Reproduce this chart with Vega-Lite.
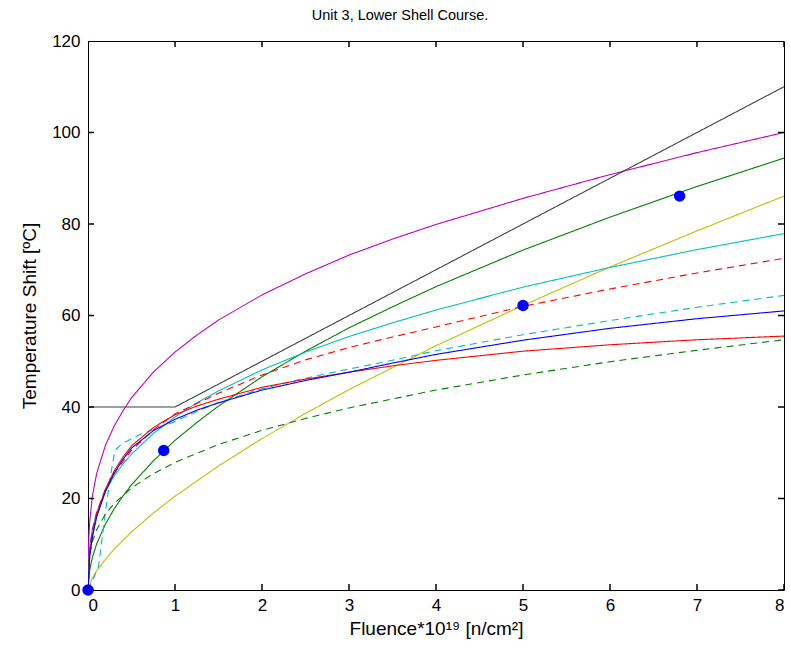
{
  "$schema": "https://vega.github.io/schema/vega-lite/v6.json",
  "autosize": {"type": "none"},
  "width": 696,
  "height": 549,
  "padding": {"left": 88, "top": 41, "right": 7, "bottom": 66},
  "background": "white",
  "config": {
    "view": {"stroke": "#000", "strokeWidth": 1},
    "font": "Liberation Sans",
    "axis": {"grid": false, "domain": false, "ticks": false, "labelColor": "#000", "labelFontSize": 17, "labelFont": "Liberation Sans", "titleFont": "Liberation Sans", "titleFontSize": 19, "titleFontWeight": "normal", "titleColor": "#000"}
  },
  "title": {"text": "Unit 3, Lower Shell Course.", "fontSize": 14.5, "fontWeight": "normal", "font": "Liberation Sans", "color": "#000", "offset": 9, "dx": -36},
  "datasets": {
    "curves": [
      {"s": "mag", "x": 0, "y": 0}, {"s": "mag", "x": 0.005, "y": 8}, {"s": "mag", "x": 0.01, "y": 12}, {"s": "mag", "x": 0.02, "y": 15}, {"s": "mag", "x": 0.05, "y": 20.5}, {"s": "mag", "x": 0.1, "y": 25.5}, {"s": "mag", "x": 0.2, "y": 31.6}, {"s": "mag", "x": 0.3, "y": 35.8}, {"s": "mag", "x": 0.4, "y": 39.1}, {"s": "mag", "x": 0.5, "y": 42.0}, {"s": "mag", "x": 0.75, "y": 47.6}, {"s": "mag", "x": 1, "y": 52}, {"s": "mag", "x": 1.25, "y": 55.7}, {"s": "mag", "x": 1.5, "y": 59.0}, {"s": "mag", "x": 2, "y": 64.5}, {"s": "mag", "x": 2.5, "y": 69.1}, {"s": "mag", "x": 3, "y": 73.2}, {"s": "mag", "x": 3.5, "y": 76.7}, {"s": "mag", "x": 4, "y": 79.9}, {"s": "mag", "x": 5, "y": 85.6}, {"s": "mag", "x": 6, "y": 90.8}, {"s": "mag", "x": 7, "y": 95.6}, {"s": "mag", "x": 8, "y": 100},
      {"s": "blk", "x": 0, "y": 40}, {"s": "blk", "x": 1, "y": 40}, {"s": "blk", "x": 2, "y": 50}, {"s": "blk", "x": 4, "y": 70}, {"s": "blk", "x": 6, "y": 90}, {"s": "blk", "x": 8, "y": 110},
      {"s": "grn", "x": 0, "y": 0}, {"s": "grn", "x": 0.02, "y": 4.4}, {"s": "grn", "x": 0.05, "y": 7.1}, {"s": "grn", "x": 0.1, "y": 10.1}, {"s": "grn", "x": 0.2, "y": 14.4}, {"s": "grn", "x": 0.3, "y": 17.7}, {"s": "grn", "x": 0.4, "y": 20.5}, {"s": "grn", "x": 0.5, "y": 23.0}, {"s": "grn", "x": 0.75, "y": 28.2}, {"s": "grn", "x": 1, "y": 32.7}, {"s": "grn", "x": 1.25, "y": 36.6}, {"s": "grn", "x": 1.5, "y": 40.2}, {"s": "grn", "x": 2, "y": 46.6}, {"s": "grn", "x": 2.5, "y": 52.2}, {"s": "grn", "x": 3, "y": 57.3}, {"s": "grn", "x": 3.5, "y": 61.9}, {"s": "grn", "x": 4, "y": 66.3}, {"s": "grn", "x": 5, "y": 74.3}, {"s": "grn", "x": 6, "y": 81.5}, {"s": "grn", "x": 7, "y": 88.2}, {"s": "grn", "x": 8, "y": 94.4},
      {"s": "yel", "x": 0, "y": 0}, {"s": "yel", "x": 0.05, "y": 2.6}, {"s": "yel", "x": 0.1, "y": 4.2}, {"s": "yel", "x": 0.2, "y": 6.7}, {"s": "yel", "x": 0.3, "y": 8.9}, {"s": "yel", "x": 0.5, "y": 12.7}, {"s": "yel", "x": 0.75, "y": 16.8}, {"s": "yel", "x": 1, "y": 20.5}, {"s": "yel", "x": 1.5, "y": 27.1}, {"s": "yel", "x": 2, "y": 33.1}, {"s": "yel", "x": 2.5, "y": 38.6}, {"s": "yel", "x": 3, "y": 43.8}, {"s": "yel", "x": 4, "y": 53.4}, {"s": "yel", "x": 5, "y": 62.2}, {"s": "yel", "x": 6, "y": 70.6}, {"s": "yel", "x": 7, "y": 78.5}, {"s": "yel", "x": 8, "y": 86.1},
      {"s": "cyn", "x": 0, "y": 0}, {"s": "cyn", "x": 0.02, "y": 9.7}, {"s": "cyn", "x": 0.05, "y": 13.3}, {"s": "cyn", "x": 0.1, "y": 17.0}, {"s": "cyn", "x": 0.2, "y": 21.6}, {"s": "cyn", "x": 0.3, "y": 24.9}, {"s": "cyn", "x": 0.4, "y": 27.5}, {"s": "cyn", "x": 0.5, "y": 29.7}, {"s": "cyn", "x": 0.75, "y": 34.2}, {"s": "cyn", "x": 1, "y": 37.8}, {"s": "cyn", "x": 1.25, "y": 40.9}, {"s": "cyn", "x": 1.5, "y": 43.5}, {"s": "cyn", "x": 2, "y": 48.1}, {"s": "cyn", "x": 2.5, "y": 52.0}, {"s": "cyn", "x": 3, "y": 55.4}, {"s": "cyn", "x": 3.5, "y": 58.4}, {"s": "cyn", "x": 4, "y": 61.2}, {"s": "cyn", "x": 5, "y": 66.2}, {"s": "cyn", "x": 6, "y": 70.5}, {"s": "cyn", "x": 7, "y": 74.4}, {"s": "cyn", "x": 8, "y": 77.9},
      {"s": "redd", "x": 0, "y": 0}, {"s": "redd", "x": 0.02, "y": 9}, {"s": "redd", "x": 0.05, "y": 13}, {"s": "redd", "x": 0.1, "y": 17}, {"s": "redd", "x": 0.2, "y": 22}, {"s": "redd", "x": 0.3, "y": 25.5}, {"s": "redd", "x": 0.5, "y": 30.5}, {"s": "redd", "x": 0.75, "y": 35}, {"s": "redd", "x": 1, "y": 38.5}, {"s": "redd", "x": 1.5, "y": 43}, {"s": "redd", "x": 2, "y": 47}, {"s": "redd", "x": 2.5, "y": 50.3}, {"s": "redd", "x": 3, "y": 53}, {"s": "redd", "x": 3.5, "y": 55.3}, {"s": "redd", "x": 4, "y": 57.5}, {"s": "redd", "x": 5, "y": 62}, {"s": "redd", "x": 6, "y": 65.8}, {"s": "redd", "x": 7, "y": 69.3}, {"s": "redd", "x": 8, "y": 72.5},
      {"s": "cynd", "x": 0, "y": 0}, {"s": "cynd", "x": 0.05, "y": 2}, {"s": "cynd", "x": 0.12, "y": 5}, {"s": "cynd", "x": 0.18, "y": 14}, {"s": "cynd", "x": 0.25, "y": 24}, {"s": "cynd", "x": 0.31, "y": 30.5}, {"s": "cynd", "x": 0.39, "y": 32}, {"s": "cynd", "x": 0.6, "y": 34}, {"s": "cynd", "x": 0.96, "y": 36.5}, {"s": "cynd", "x": 1.25, "y": 39}, {"s": "cynd", "x": 1.5, "y": 41}, {"s": "cynd", "x": 2, "y": 44}, {"s": "cynd", "x": 2.5, "y": 46.3}, {"s": "cynd", "x": 3, "y": 48.3}, {"s": "cynd", "x": 3.5, "y": 50.2}, {"s": "cynd", "x": 4, "y": 52.3}, {"s": "cynd", "x": 5, "y": 55.8}, {"s": "cynd", "x": 6, "y": 58.9}, {"s": "cynd", "x": 7, "y": 61.8}, {"s": "cynd", "x": 8, "y": 64.4},
      {"s": "red", "x": 0, "y": 0}, {"s": "red", "x": 0.02, "y": 8}, {"s": "red", "x": 0.05, "y": 12}, {"s": "red", "x": 0.1, "y": 16.5}, {"s": "red", "x": 0.2, "y": 22}, {"s": "red", "x": 0.3, "y": 26}, {"s": "red", "x": 0.4, "y": 29}, {"s": "red", "x": 0.5, "y": 31.5}, {"s": "red", "x": 0.75, "y": 35.5}, {"s": "red", "x": 1, "y": 38.3}, {"s": "red", "x": 1.25, "y": 40.2}, {"s": "red", "x": 1.5, "y": 41.7}, {"s": "red", "x": 2, "y": 44.3}, {"s": "red", "x": 2.5, "y": 46.1}, {"s": "red", "x": 3, "y": 47.6}, {"s": "red", "x": 3.5, "y": 49}, {"s": "red", "x": 4, "y": 50.2}, {"s": "red", "x": 5, "y": 52.2}, {"s": "red", "x": 6, "y": 53.6}, {"s": "red", "x": 7, "y": 54.7}, {"s": "red", "x": 8, "y": 55.5},
      {"s": "grnd", "x": 0, "y": 0}, {"s": "grnd", "x": 0.02, "y": 7.9}, {"s": "grnd", "x": 0.05, "y": 10.6}, {"s": "grnd", "x": 0.1, "y": 13.2}, {"s": "grnd", "x": 0.2, "y": 16.6}, {"s": "grnd", "x": 0.3, "y": 18.9}, {"s": "grnd", "x": 0.5, "y": 22.3}, {"s": "grnd", "x": 0.75, "y": 25.4}, {"s": "grnd", "x": 1, "y": 27.9}, {"s": "grnd", "x": 1.5, "y": 31.8}, {"s": "grnd", "x": 2, "y": 34.9}, {"s": "grnd", "x": 2.5, "y": 37.5}, {"s": "grnd", "x": 3, "y": 39.8}, {"s": "grnd", "x": 4, "y": 43.7}, {"s": "grnd", "x": 5, "y": 47.0}, {"s": "grnd", "x": 6, "y": 49.9}, {"s": "grnd", "x": 7, "y": 52.4}, {"s": "grnd", "x": 8, "y": 54.7},
      {"s": "blu", "x": 0, "y": 0}, {"s": "blu", "x": 0.02, "y": 7.5}, {"s": "blu", "x": 0.05, "y": 11.5}, {"s": "blu", "x": 0.1, "y": 16}, {"s": "blu", "x": 0.2, "y": 21.5}, {"s": "blu", "x": 0.3, "y": 25.5}, {"s": "blu", "x": 0.4, "y": 28.5}, {"s": "blu", "x": 0.5, "y": 31}, {"s": "blu", "x": 0.75, "y": 34.8}, {"s": "blu", "x": 1, "y": 37.3}, {"s": "blu", "x": 1.25, "y": 39.3}, {"s": "blu", "x": 1.5, "y": 40.9}, {"s": "blu", "x": 2, "y": 43.7}, {"s": "blu", "x": 2.5, "y": 45.8}, {"s": "blu", "x": 3, "y": 47.6}, {"s": "blu", "x": 3.5, "y": 49.6}, {"s": "blu", "x": 4, "y": 51.5}, {"s": "blu", "x": 5, "y": 54.6}, {"s": "blu", "x": 6, "y": 57.2}, {"s": "blu", "x": 7, "y": 59.3}, {"s": "blu", "x": 8, "y": 61}
    ],
    "dots": [
      {"x": 0, "y": 0}, {"x": 0.87, "y": 30.5}, {"x": 5.0, "y": 62.2}, {"x": 6.8, "y": 86.1}
    ],
    "xticks": [{"x": 0}, {"x": 1}, {"x": 2}, {"x": 3}, {"x": 4}, {"x": 5}, {"x": 6}, {"x": 7}, {"x": 8}],
    "yticks": [{"y": 0}, {"y": 20}, {"y": 40}, {"y": 60}, {"y": 80}, {"y": 100}, {"y": 120}]
  },
  "layer": [
    {
      "data": {"name": "curves"},
      "mark": {"type": "line", "strokeWidth": 1.1, "clip": true},
      "encoding": {
        "x": {"field": "x", "type": "quantitative", "scale": {"domain": [0, 8], "nice": false}, "axis": {"orient": "bottom", "values": [0, 1, 2, 3, 4, 5, 6, 7, 8], "format": "d", "labelPadding": 7, "title": "Fluence*10¹⁹ [n/cm²]", "titlePadding": 6}},
        "y": {"field": "y", "type": "quantitative", "scale": {"domain": [0, 120], "nice": false}, "axis": {"orient": "left", "values": [0, 20, 40, 60, 80, 100, 120], "format": "d", "labelPadding": 8, "title": "Temperature Shift [ºC]", "titlePadding": 12}},
        "color": {"field": "s", "type": "nominal", "legend": null, "scale": {"domain": ["mag", "blk", "grn", "yel", "cyn", "redd", "cynd", "red", "grnd", "blu"], "range": ["#bf00bf", "#404040", "#008000", "#bfbf00", "#00bfbf", "#ff0000", "#00bfbf", "#ff0000", "#008000", "#0000ff"]}},
        "strokeDash": {"field": "s", "type": "nominal", "legend": null, "scale": {"domain": ["mag", "blk", "grn", "yel", "cyn", "redd", "cynd", "red", "grnd", "blu"], "range": [[1, 0], [1, 0], [1, 0], [1, 0], [1, 0], [7, 5], [7, 5], [1, 0], [7, 5], [1, 0]]}},
        "order": {"field": "x", "type": "quantitative"}
      }
    },
    {
      "data": {"name": "xticks"},
      "mark": {"type": "tick", "orient": "vertical", "clip": true, "size": 12, "thickness": 1.5, "color": "#000", "opacity": 1},
      "encoding": {
        "x": {"field": "x", "type": "quantitative"},
        "y": {"datum": 0, "type": "quantitative"}
      }
    },
    {
      "data": {"name": "xticks"},
      "mark": {"type": "tick", "orient": "vertical", "clip": true, "size": 12, "thickness": 1.5, "color": "#000", "opacity": 1},
      "encoding": {
        "x": {"field": "x", "type": "quantitative"},
        "y": {"datum": 120, "type": "quantitative"}
      }
    },
    {
      "data": {"name": "yticks"},
      "mark": {"type": "tick", "orient": "horizontal", "clip": true, "size": 12, "thickness": 1.5, "color": "#000", "opacity": 1},
      "encoding": {
        "y": {"field": "y", "type": "quantitative"},
        "x": {"datum": 0, "type": "quantitative"}
      }
    },
    {
      "data": {"name": "yticks"},
      "mark": {"type": "tick", "orient": "horizontal", "clip": true, "size": 12, "thickness": 1.5, "color": "#000", "opacity": 1},
      "encoding": {
        "y": {"field": "y", "type": "quantitative"},
        "x": {"datum": 8, "type": "quantitative"}
      }
    },
    {
      "data": {"name": "dots"},
      "mark": {"type": "point", "filled": true, "shape": "circle", "size": 130, "color": "#0000ff", "opacity": 1, "clip": false},
      "encoding": {
        "x": {"field": "x", "type": "quantitative"},
        "y": {"field": "y", "type": "quantitative"}
      }
    }
  ]
}
